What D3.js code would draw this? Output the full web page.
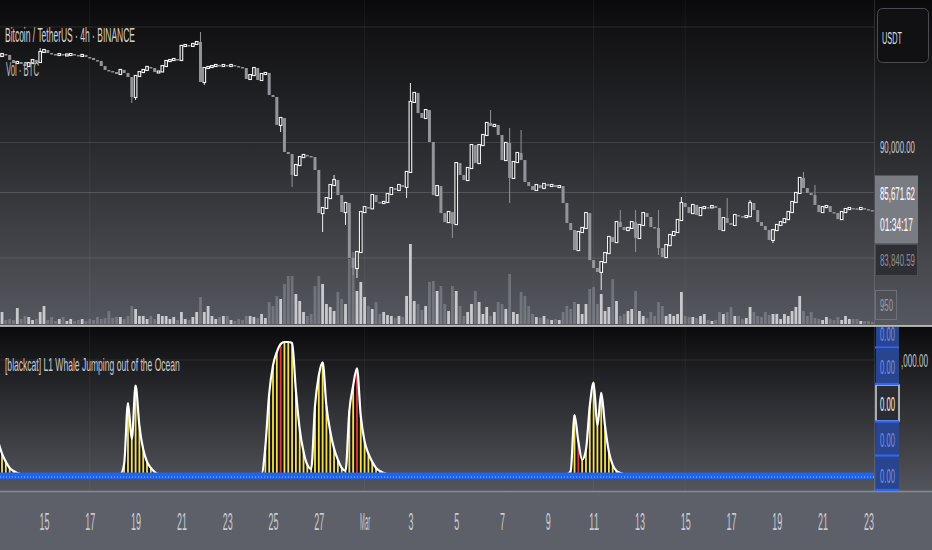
<!DOCTYPE html>
<html>
<head>
<meta charset="utf-8">
<script src="https://cdn.jsdelivr.net/npm/d3@7"></script>
<style>
  html, body { margin: 0; padding: 0; background: #5d6069; }
  svg { display: block; }
  text { font-family: "Liberation Sans", "DejaVu Sans", sans-serif; }
</style>
</head>
<body>
<svg id="chart" width="932" height="550"></svg>
<script>
// ---- data ----
const startTime = "2025-02-13T00:00:00Z"   // first 4h candle
const firstOpen = 97400

const closes = [
  97490, 97660, 97580, 97140, 96880, 96970, 96800, 96620, 96880, 97140,
  96970, 97840, 98010, 97750, 97660, 97580, 97660, 97580, 97620, 97660,
  97580, 97490, 97580, 97400, 97320, 97140, 97060, 96620, 96280, 96190,
  96100, 95930, 96280, 96020, 95670, 93940, 95760, 96100, 96280, 96540,
  96450, 96100, 96150, 96620, 97060, 97140, 97230, 97140, 98360, 98440,
  98360, 98530, 98700, 95240, 96450, 96540, 96620, 96710, 96620, 96710,
  96620, 96710, 96620, 96540, 96450, 95500, 95840, 96450, 95410, 95930,
  96020, 94110, 93940, 91520, 92120, 89180, 89000, 87190, 88050, 88740,
  88920, 88830, 88740, 87620, 83890, 84330, 85190, 86320, 86750, 85450,
  83980, 84760, 80000, 79130, 80520, 83980, 84410, 84300, 85450, 84850,
  84760, 84850, 85540, 86060, 85890, 86320, 86150, 87450, 93510, 94290,
  92550, 92120, 92810, 90040, 85450, 86230, 83890, 83110, 83980, 82940,
  88220, 87190, 86750, 87790, 89780, 88220, 89780, 90650, 91690, 91430,
  91520, 90650, 88480, 89960, 86930, 88310, 89090, 88480, 86580, 86230,
  85890, 86320, 86060, 86410, 86230, 86320, 86150, 86230, 84760, 83030,
  82420, 80690, 82250, 82600, 83890, 79820, 79130, 78790, 79650, 80430,
  81820, 81380, 83110, 82680, 82420, 82600, 83110, 81730, 82860, 83890,
  83550, 82680, 82600, 80860, 80080, 81120, 81990, 82250, 83290, 84760,
  84410, 83890, 84590, 83720, 84330, 84410, 84380, 84500, 84330, 82420,
  83460, 83030, 82860, 83720, 83630, 83550, 83630, 84760, 84150, 83110,
  82770, 82420, 81560, 82420, 82860, 83110, 83370, 83980, 84850, 85630,
  86930, 86060, 85630, 85450, 84590, 83980, 84410, 84500, 83980, 83890,
  83370, 83980, 84240, 84330, 84300, 84240, 84330, 84240, 84150, 84070
]

// visible wicks [candle index, price]
const highs = [
  [11, 98180], [53, 99570], [88, 87190], [108, 95150], [129, 92810], [134, 91260],
  [137, 91080], [163, 84150], [167, 84150], [173, 84150], [179, 85280], [191, 85190],
  [197, 85020], [211, 87450], [214, 86320]
]
const lows = [
  [35, 93420], [36, 93680], [54, 94980], [74, 90910], [77, 86150], [85, 82250],
  [91, 82860], [93, 78530], [94, 78270], [107, 85190], [119, 81730], [134, 84760],
  [158, 77230], [167, 80520], [173, 80260], [203, 81290]
]

// volume in BTC
const volumes = [
  2000, 3000, 1000, 1250, 1000, 4000, 1250, 2000, 1750, 1000,
  1250, 3000, 4500, 1000, 1750, 750, 1250, 1750, 750, 1250,
  750, 1000, 1250, 750, 1250, 1000, 1750, 1250, 1500, 3250,
  1500, 1750, 1750, 1250, 2000, 4500, 3750, 2000, 2000, 1250,
  2000, 1250, 2500, 2000, 2000, 1250, 1750, 1000, 3000, 1250,
  1000, 1750, 3000, 6750, 3000, 4500, 2000, 1250, 1750, 2000,
  2000, 1000, 750, 1250, 1000, 2000, 2000, 1750, 1500, 2500,
  1500, 5500, 4500, 7000, 6250, 10000, 12000, 12000, 7500, 5750,
  3000, 2000, 2500, 9500, 12000, 10000, 5000, 4250, 3250, 8000,
  6250, 5000, 16250, 18000, 8250, 10500, 6750, 4500, 3750, 5500,
  2500, 3000, 2250, 2000, 1500, 2000, 1750, 7000, 20000, 5750,
  5000, 3500, 4500, 10500, 10750, 8250, 9500, 5000, 3250, 9500,
  8250, 4500, 2000, 3000, 5000, 8250, 5500, 2500, 4250, 2000,
  3000, 5500, 5000, 3750, 12500, 3000, 2500, 8000, 7000, 4500,
  2500, 1750, 1500, 2000, 1250, 1000, 1250, 1000, 3000, 4500,
  3750, 5500, 5000, 2500, 5000, 8750, 9250, 5000, 7500, 3250,
  4250, 11250, 5750, 2000, 2500, 3250, 3750, 8250, 3250, 2000,
  1500, 3000, 2000, 5500, 4500, 2000, 2500, 2000, 2500, 8000,
  2000, 1750, 1750, 1500, 2000, 2500, 1000, 750, 1000, 3000,
  2500, 3000, 4250, 2000, 2000, 1250, 1500, 4250, 3000, 2000,
  1750, 3000, 2250, 2500, 2500, 1250, 2500, 2000, 3250, 4250,
  7000, 3250, 2000, 3000, 1500, 1250, 1000, 1750, 1250, 1000,
  1750, 1000, 2000, 1250, 1250, 1250, 750, 750, 750, 500
]

// whale indicator: bursts starting at candle index, values 0..100
const whaleStart = [0, 33, 70, 150]
const whaleValues = [
  [24.6, 15.4, 9.2, 4.6, 2.3, 0.8],
  [7.7, 53.8, 26.2, 66.9, 36.2, 18.5, 9.2, 4.6, 1.5],
  [20.8, 60.8, 82.3, 92.3, 98.5, 100, 100, 99.2, 63.1, 33.8, 16.9, 6.9, 3.8, 51.5, 74.6, 84.6,
   51.5, 32.3, 19.2, 10.8, 4.6, 2.3, 47.7, 66.9, 80, 43.8, 24.6, 15.4, 9.2, 4.6, 2.3, 0.8],
  [2.3, 44.6, 24.6, 10.8, 18.5, 51.5, 69.2, 36.2, 61.5, 36.2, 16.9, 6.9, 2.3, 0.8]
]
const whaleRed = [74, 94, 152]

const tickDates = ["2025-02-15", "2025-02-17", "2025-02-19", "2025-02-21", "2025-02-23", "2025-02-25",
  "2025-02-27", "2025-03-01", "2025-03-03", "2025-03-05", "2025-03-07", "2025-03-09", "2025-03-11",
  "2025-03-13", "2025-03-15", "2025-03-17", "2025-03-19", "2025-03-21", "2025-03-23"]
const tickLabels = ["15", "17", "19", "21", "23", "25", "27", "Mar", "3", "5", "7", "9", "11",
  "13", "15", "17", "19", "21", "23"]
const vGridDates = ["2025-02-17", "2025-03-01", "2025-03-11", "2025-03-15"]
const gridPrices = [100000, 90000, 80000]
const lastPrice = 85671.62
const countdown = "01:34:17"
const refPrice = 83840.59
const lastVolume = 950
const whaleAxisLabels = [0, 0, 0, 0, 0]

// ---- chart ----
const W = 932
const plotRight = 874
const svg = d3.select("#chart")
const defs = svg.append("defs")

const grad = (id, stops) => {
  const g = defs.append("linearGradient").attr("id", id)
    .attr("x1", 0).attr("y1", 0).attr("x2", 0).attr("y2", 1)
  stops.forEach(([o, c]) => g.append("stop").attr("offset", o).attr("stop-color", c))
}
grad("bgTop", [[0, "#0a0a0b"], [0.08, "#111113"], [0.45, "#2a2b2f"], [1, "#56585f"]])
grad("bgLow", [[0, "#0b0b0c"], [0.45, "#2c2d31"], [1, "#53555c"]])

defs.append("clipPath").attr("id", "clipTop").append("rect")
  .attr("x", 0).attr("y", 0).attr("width", plotRight).attr("height", 325)
defs.append("clipPath").attr("id", "clipLow").append("rect")
  .attr("x", 0).attr("y", 327).attr("width", plotRight).attr("height", 164)

// backgrounds
svg.append("rect").attr("width", W).attr("height", 326).attr("fill", "url(#bgTop)")
svg.append("rect").attr("y", 326).attr("width", W).attr("height", 165).attr("fill", "url(#bgLow)")
svg.append("rect").attr("y", 491).attr("width", W).attr("height", 59).attr("fill", "#5d6069")

// scales
const x = d3.scaleUtc()
  .domain([new Date("2025-02-15T00:00:00Z"), new Date("2025-03-23T00:00:00Z")])
  .range([44, 868.4])
const y = d3.scaleLinear().domain([80000, 100000]).range([258, 27])
const yVol = d3.scaleLinear().domain([0, 25000]).range([324, 224])
const yW = d3.scaleLinear().domain([0, 100]).range([474, 342])

const t0 = new Date(startTime)
const candles = closes.map((c, i) => {
  const o = i === 0 ? firstOpen : closes[i - 1]
  return { i, t: d3.utcHour.offset(t0, 4 * i), o, c, h: Math.max(o, c), l: Math.min(o, c), v: volumes[i] }
})
highs.forEach(([i, p]) => candles[i].h = p)
lows.forEach(([i, p]) => candles[i].l = p)

// narrow text: draw at the font size, then squeeze horizontally to the width seen
const label = (g, str, lx, ly, size, fill, len, anchor) => {
  const t = g.append("text").attr("font-size", size).attr("fill", fill).text(str)
  const k = len / t.node().getComputedTextLength()
  const x0 = anchor === "middle" ? lx - len / 2 : lx
  t.attr("transform", `translate(${x0},${ly}) scale(${k},1)`)
  return t
}

// grid
const gTop = svg.append("g").attr("clip-path", "url(#clipTop)")
gTop.selectAll(".hgrid").data(gridPrices).join("line")
  .attr("x1", 0).attr("x2", plotRight)
  .attr("y1", d => y(d)).attr("y2", d => y(d))
  .attr("stroke", "rgba(255,255,255,0.11)")
gTop.append("line")
  .attr("x1", 0).attr("x2", plotRight)
  .attr("y1", y(lastPrice)).attr("y2", y(lastPrice))
  .attr("stroke", "rgba(255,255,255,0.16)")
svg.selectAll(".vgrid").data(vGridDates).join("line")
  .attr("x1", d => x(new Date(d + "T00:00:00Z"))).attr("x2", d => x(new Date(d + "T00:00:00Z")))
  .attr("y1", 0).attr("y2", 491)
  .attr("stroke", "rgba(255,255,255,0.05)")

// legend text (under the candles)
label(svg, "Bitcoin / TetherUS · 4h · BINANCE", 5, 42, 20, "#d2d3d6", 130)
label(svg, "Vol · BTC", 6, 76, 20, "#bfc0c4", 33)

// volume
gTop.selectAll(".vol").data(candles).join("rect")
  .attr("x", d => x(d.t) - 1.4).attr("width", 2.8)
  .attr("y", d => yVol(d.v)).attr("height", d => yVol(0) - yVol(d.v))
  .attr("fill", d => d.c >= d.o ? "#c8c9cd" : "rgba(205,207,215,0.28)")

// candles
const up = d => d.c >= d.o
gTop.selectAll(".wick").data(candles).join("line")
  .attr("x1", d => x(d.t)).attr("x2", d => x(d.t))
  .attr("y1", d => y(d.h)).attr("y2", d => y(d.l))
  .attr("stroke", d => up(d) ? "#ececee" : "#939499").attr("stroke-width", 1)
gTop.selectAll(".body").data(candles).join("rect")
  .attr("x", d => x(d.t) - (up(d) ? 1.3 : 1.5))
  .attr("width", d => up(d) ? 2.6 : 3.0)
  .attr("y", d => y(Math.max(d.o, d.c)) - (up(d) ? 0.5 : 0))
  .attr("height", d => Math.max(up(d) ? 2 : 1.5, Math.abs(y(d.o) - y(d.c)) + (up(d) ? 1 : 0)))
  .attr("fill", d => up(d) ? "#1e1e21" : "#939499")
  .attr("stroke", d => up(d) ? "#f4f4f6" : "none")
  .attr("stroke-width", 1.1)

// pane separators
svg.append("line").attr("x1", 0).attr("x2", W).attr("y1", 326).attr("y2", 326)
  .attr("stroke", "#d8d9dc").attr("stroke-width", 1.5)
svg.append("line").attr("x1", 0).attr("x2", W).attr("y1", 491.5).attr("y2", 491.5)
  .attr("stroke", "#898b92").attr("stroke-width", 1.5)
svg.append("line").attr("x1", plotRight + 0.5).attr("x2", plotRight + 0.5).attr("y1", 0).attr("y2", 491)
  .attr("stroke", "rgba(255,255,255,0.12)")

// ---- lower pane: whale indicator ----
const gLow = svg.append("g").attr("clip-path", "url(#clipLow)")
gLow.append("line").attr("x1", 0).attr("x2", plotRight).attr("y1", 360).attr("y2", 360)
  .attr("stroke", "rgba(255,255,255,0.09)")

const whale = candles.map(() => 0)
whaleStart.forEach((s, k) => whaleValues[k].forEach((v, j) => whale[s + j] = v))
const wData = candles.map((d, i) => ({ t: d.t, v: whale[i], red: whaleRed.includes(i) }))

gLow.append("path").datum(wData)
  .attr("d", d3.area().x(d => x(d.t)).y0(yW(0)).y1(d => yW(d.v)).curve(d3.curveMonotoneX))
  .attr("fill", "#121213")
gLow.selectAll(".wbar").data(wData.filter(d => d.v > 0)).join("rect")
  .attr("x", d => x(d.t) - 0.9).attr("width", 1.8)
  .attr("y", d => yW(d.v)).attr("height", d => yW(0) - yW(d.v))
  .attr("fill", d => d.red ? "#e0393b" : "#f3e04c")
gLow.append("path").datum(wData)
  .attr("d", d3.line().x(d => x(d.t)).y(d => yW(d.v)).curve(d3.curveMonotoneX))
  .attr("fill", "none").attr("stroke", "#ffffff").attr("stroke-width", 2.2)

// blue zero band
gLow.append("rect").attr("x", 0).attr("y", 472.5).attr("width", plotRight).attr("height", 6.5)
  .attr("fill", "#2163ea")
gLow.append("line").attr("x1", 0).attr("x2", plotRight).attr("y1", 477).attr("y2", 477)
  .attr("stroke", "#9ab8ff").attr("stroke-width", 1).attr("stroke-dasharray", "1,2")

label(svg, "[blackcat] L1 Whale Jumping out of the Ocean", 5, 371, 18, "#c9cacd", 175)

// ---- time axis ----
const xAxis = d3.axisBottom(x)
  .tickValues(tickDates.map(d => new Date(d + "T00:00:00Z")))
  .tickFormat((d, i) => tickLabels[i])
  .tickSize(0)
svg.append("g").attr("transform", "translate(0,510)")
  .call(xAxis)
  .call(g => g.select(".domain").remove())
  .selectAll("text")
  .attr("y", 0).attr("dy", 0)
  .attr("fill", "#c9cbd1").attr("font-size", 23)
  .style("font-family", "'Liberation Sans', 'DejaVu Sans', sans-serif")
  .each(function (d, i) {
    const want = tickLabels[i] === "Mar" ? 10 : tickLabels[i].length * 5
    const k = want / this.getComputedTextLength()
    d3.select(this).attr("transform", `translate(0,20) scale(${k},1)`)
  })

// ---- right price scale ----
const axisG = svg.append("g")
axisG.append("rect").attr("x", 877.5).attr("y", 8.5).attr("width", 51).attr("height", 54).attr("rx", 5)
  .attr("fill", "#111113").attr("stroke", "#4a4b50")
label(axisG, "USDT", 882, 44, 17, "#dcdde0", 20)
label(axisG, d3.format(",.2f")(90000), 880, 153, 17, "#c6c7cb", 35)

const ly = y(lastPrice)
axisG.append("rect").attr("x", 875).attr("y", ly - 17).attr("width", 43).attr("height", 68)
  .attr("fill", "#7a7c84")
label(axisG, d3.format(",.2f")(lastPrice), 880, ly + 8, 19, "#ffffff", 35)
label(axisG, countdown, 880, ly + 39, 19, "#ffffff", 33)
axisG.append("rect").attr("x", 875.5).attr("y", 244.5).attr("width", 42).attr("height", 31)
  .attr("fill", "#2d2f35").attr("stroke", "#4c4e55")
label(axisG, d3.format(",.2f")(refPrice), 880, 266, 17, "#8d8f96", 35)
axisG.append("rect").attr("x", 875.5).attr("y", 290.5).attr("width", 21).attr("height", 29)
  .attr("fill", "none").attr("stroke", "#6e7077")
label(axisG, String(lastVolume), 880, 311, 17, "#9c9ea4", 13)

// ---- right scale of lower pane ----
const boxes = [[327, 347], [349, 384], [385, 421], [422, 455], [457, 490]]
const baseLines = [341, 374, 411, 447, 483]
boxes.forEach(([y0, y1], k) => {
  const white = k === 2
  axisG.append("rect").attr("x", 876).attr("y", y0).attr("width", 23).attr("height", y1 - y0)
    .attr("fill", white ? "#2b2c31" : "#2a4590")
    .attr("stroke", white ? "#d4d5d8" : "none").attr("stroke-width", 1.5)
  label(axisG, d3.format(".2f")(whaleAxisLabels[k]), 880, baseLines[k], 21,
    white ? "#f2f2f4" : "#7390e2", 15)
})
;[347.5, 384, 421.5, 455.5, 490].forEach(v => {
  axisG.append("line").attr("x1", 875).attr("x2", 899).attr("y1", v).attr("y2", v)
    .attr("stroke", "#2c66ff").attr("stroke-width", 2.2)
})
label(axisG, ",000.00", 901, 367, 19, "#c9cacd", 27)
</script>
</body>
</html>
